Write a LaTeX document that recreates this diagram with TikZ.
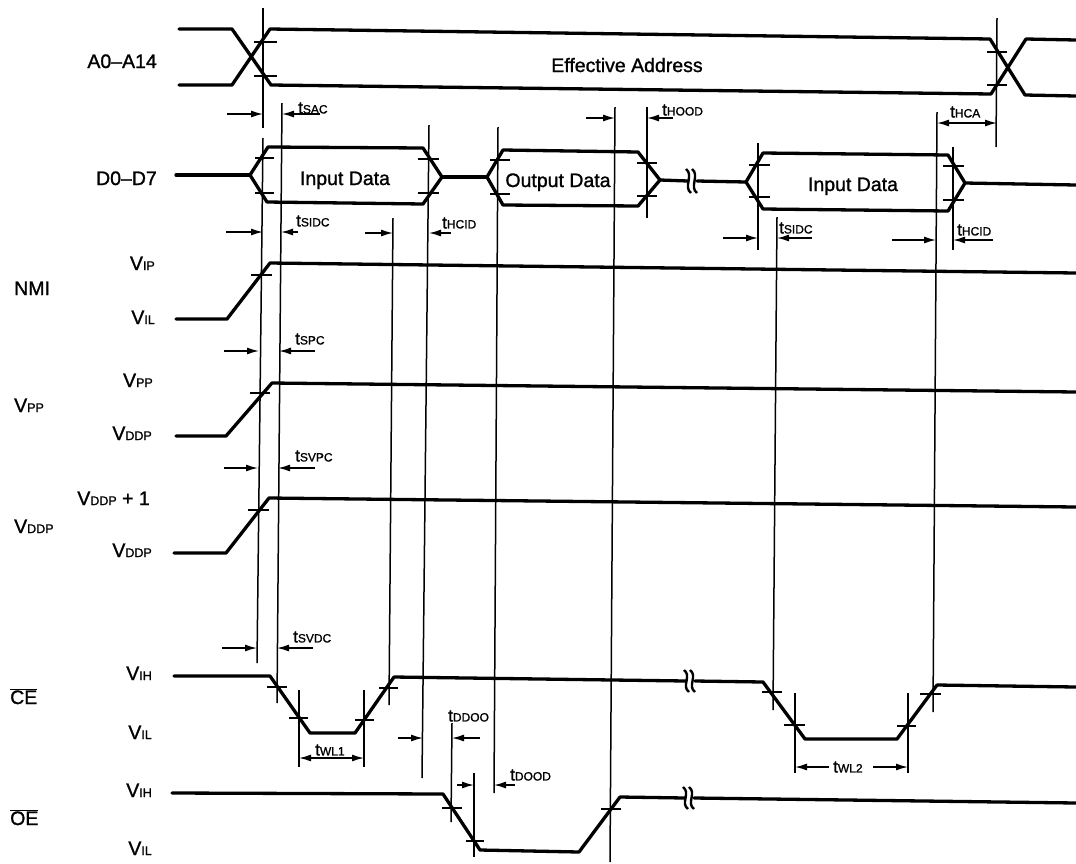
\documentclass[tikz,border=0pt]{standalone}
\usepackage{fontspec}
\setmainfont{Liberation Sans}[BoldFont=Liberation Sans,BoldFeatures={FakeBold=1.2}]
\usetikzlibrary{arrows.meta}
\newcommand\tlab[1]{{\fontsize{17}{17}\selectfont t}{\fontsize{12}{12}\selectfont #1}}
\newcommand\vlab[1]{V{\fontsize{12.5}{12.5}\selectfont #1}}
\begin{document}
\begin{tikzpicture}[x=1pt,y=-1pt,
  sig/.style={line width=3.3pt,line join=round,line cap=round},
  guide/.style={line width=1.5pt},
  tickmark/.style={line width=1.5pt},
  dimarrow/.style={line width=1.4pt,-{Latex[length=12pt,width=7pt]}},
  dimboth/.style={line width=1.4pt,{Latex[length=12pt,width=7pt]}-{Latex[length=12pt,width=7pt]}},
  lab/.style={font=\bfseries\fontsize{19.5}{20}\selectfont,inner sep=0pt},
  tl/.style={inner sep=0pt,anchor=west,font=\bfseries}]
\useasboundingbox (0,0) rectangle (1076,863);

% ---------- A0-A14 ----------
\draw[sig] (179,29) -- (232,29) -- (271,85) -- (991,94) -- (1026,39) -- (1076,40);
\draw[sig] (179,85) -- (232,85) -- (270,29) -- (990,39) -- (1025,95) -- (1076,96);
\draw[guide] (263,8) -- (263,128);
\draw[guide] (997,18) -- (996,147);
\draw[tickmark] (254,42) -- (277,42) (254,76) -- (277,76);
\draw[tickmark] (987,52) -- (1007,52) (987,85) -- (1007,85);

% ---------- D0-D7 ----------
\draw[sig] (176,175) -- (250,175);
\draw[sig] (250,175) -- (268,147) -- (423,148) -- (442,177) -- (423,204) -- (267,202) -- cycle;
\draw[sig] (442,177) -- (487,177);
\draw[sig] (487,177) -- (503,150) -- (638,152) -- (660,180) -- (638,206) -- (503,205) -- cycle;
\draw[sig] (660,180) -- (688,181);
\draw[line width=2.4pt] (686,169) .. controls (694,175) and (683,187) .. (691,193);
\draw[line width=2.4pt] (692,169) .. controls (700,175) and (689,187) .. (697,193);
\draw[sig] (697,181) -- (746,182);
\draw[sig] (746,182) -- (763,153) -- (948,155) -- (965,183) -- (948,211) -- (763,209) -- cycle;
\draw[sig] (965,183) -- (1076,185);
\draw[tickmark] (255,158) -- (274,158) (255,193) -- (274,193);
\draw[tickmark] (418,159) -- (439,159) (418,193) -- (439,193);
\draw[tickmark] (490,160) -- (510,160) (490,194) -- (510,194);
\draw[tickmark] (637,163) -- (657,163) (637,196) -- (657,196);
\draw[tickmark] (749,165) -- (770,165) (749,197) -- (770,197);
\draw[tickmark] (943,166) -- (964,166) (943,200) -- (964,200);

% ---------- guide lines ----------
\draw[guide] (263,138) -- (257,663);
\draw[guide] (282,103) -- (277,703);
\draw[guide] (393,218) -- (389,705);
\draw[guide] (429,125) -- (422,778);
\draw[guide] (498,127) -- (494,793);
\draw[guide] (615,107) -- (610,862);
\draw[guide] (647,107) -- (647,218);
\draw[guide] (758,143) -- (758,250);
\draw[guide] (777,217) -- (773,710);
\draw[guide] (937,112) -- (933,712);
\draw[guide] (953,147) -- (953,250);
\draw[guide] (299,690) -- (299,767);
\draw[guide] (364,690) -- (364,767);
\draw[guide] (795,693) -- (795,773);
\draw[guide] (908,693) -- (908,773);
\draw[guide] (452,723) -- (451,822);
\draw[guide] (474,773) -- (474,857);

% ---------- NMI, VPP, VDDP ----------
\draw[sig] (176,319) -- (227,319) -- (270,263) -- (1076,273);
\draw[tickmark] (251,275) -- (272,275);
\draw[sig] (176,436) -- (226,436) -- (272,383) -- (1076,392);
\draw[tickmark] (250,393) -- (270,393);
\draw[sig] (174,553) -- (226,553) -- (269,498) -- (1076,507);
\draw[tickmark] (248,510) -- (269,510);

% ---------- CE ----------
\draw[sig] (174,676) -- (270,676) -- (310,733) -- (355,733) -- (394,677) -- (686,681);
\draw[line width=2.4pt] (684,670) .. controls (692,676) and (681,686) .. (689,692);
\draw[line width=2.4pt] (690,670) .. controls (698,676) and (687,686) .. (695,692);
\draw[sig] (695,681) -- (763,682) -- (805,739) -- (897,739) -- (937,685) -- (1076,687);
\draw[tickmark] (267,687) -- (287,687) (289,718) -- (308,718) (355,720) -- (374,720) (379,688) -- (398,688);
\draw[tickmark] (762,692) -- (782,692) (784,725) -- (805,725) (897,726) -- (916,726) (920,694) -- (941,694);

% ---------- OE ----------
\draw[sig] (172,793) -- (443,794) -- (480,850) -- (579,852) -- (620,797) -- (685,798);
\draw[line width=2.4pt] (683,787) .. controls (691,793) and (680,803) .. (688,809);
\draw[line width=2.4pt] (689,787) .. controls (697,793) and (686,803) .. (694,809);
\draw[sig] (694,798) -- (1076,803);
\draw[tickmark] (442,808) -- (462,808) (466,841) -- (484,841) (601,809) -- (621,809);

% ---------- dimension arrows ----------
\draw[dimarrow] (227,114) -- (263,114);
\draw[dimarrow] (320,114) -- (282,114);
\draw[dimarrow] (226,232) -- (263,232);
\draw[dimarrow] (298,232) -- (281,232);
\draw[dimarrow] (365,233) -- (393,233);
\draw[dimarrow] (451,233) -- (429,233);
\draw[dimarrow] (586,118) -- (615,118);
\draw[dimarrow] (673,118) -- (647,118);
\draw[dimboth] (937,123) -- (997,123);
\draw[dimarrow] (723,238) -- (758,238);
\draw[dimarrow] (812,238) -- (777,238);
\draw[dimarrow] (892,240) -- (936,240);
\draw[dimarrow] (993,240) -- (953,240);
\draw[dimarrow] (224,351) -- (259,351);
\draw[dimarrow] (315,351) -- (279,351);
\draw[dimarrow] (224,468) -- (258,468);
\draw[dimarrow] (315,468) -- (278,468);
\draw[dimarrow] (222,648) -- (257,648);
\draw[dimarrow] (313,648) -- (277,648);
\draw[dimboth] (299,758) -- (364,758);
\draw[dimarrow] (829,767) -- (795,767);
\draw[dimarrow] (873,767) -- (908,767);
\draw[dimarrow] (398,738) -- (423,738);
\draw[dimarrow] (480,738) -- (452,738);
\draw[dimarrow] (457,785) -- (474,785);
\draw[dimarrow] (515,785) -- (494,785);

% ---------- labels ----------
\node[lab,anchor=base east] (la) at (157,68) {A0--A14};
\node[lab,anchor=base east] (ld) at (157,185) {D0--D7};
\node[lab,anchor=base] (lea) at (627,72) {Effective Address};
\node[lab,anchor=base] (lid1) at (345,185) {Input Data};
\node[lab,anchor=base] (lod) at (558,187) {Output Data};
\node[lab,anchor=base] (lid2) at (853,191) {Input Data};
\node[lab,anchor=base west] (lnmi) at (14,295) {NMI};
\node[lab,anchor=base east] (lvip) at (155,270) {\vlab{IP}};
\node[lab,anchor=base east] (lvil1) at (155,324) {\vlab{IL}};
\node[lab,anchor=base east] (lvpp1) at (153,387) {\vlab{PP}};
\node[lab,anchor=base west] (lvpp2) at (14,412) {\vlab{PP}};
\node[lab,anchor=base east] (lvddp1) at (152,440) {\vlab{DDP}};
\node[lab,anchor=base east] (lvddp2) at (150,505) {\vlab{DDP} + 1};
\node[lab,anchor=base west] (lvddp3) at (14,533) {\vlab{DDP}};
\node[lab,anchor=base east] (lvddp4) at (152,557) {\vlab{DDP}};
\node[lab,anchor=base west] (lce) at (10,704) {$\overline{\mbox{CE}}$};
\node[lab,anchor=base east] (lvih1) at (152,680) {\vlab{IH}};
\node[lab,anchor=base east] (lvil2) at (152,739) {\vlab{IL}};
\node[lab,anchor=base west] (loe) at (10,825) {$\overline{\mbox{OE}}$};
\node[lab,anchor=base east] (lvih2) at (152,797) {\vlab{IH}};
\node[lab,anchor=base east] (lvil3) at (152,855) {\vlab{IL}};

\node[tl] (t1) at (298,108) {\tlab{SAC}};
\node[tl] (t2) at (296,221) {\tlab{SIDC}};
\node[tl] (t3) at (442,223) {\tlab{HCID}};
\node[tl] (t4) at (662,110) {\tlab{HOOD}};
\node[tl] (t5) at (950,112) {\tlab{HCA}};
\node[tl] (t6) at (779,228) {\tlab{SIDC}};
\node[tl] (t7) at (957,230) {\tlab{HCID}};
\node[tl] (t8) at (295,339) {\tlab{SPC}};
\node[tl] (t9) at (295,456) {\tlab{SVPC}};
\node[tl] (t10) at (293,637) {\tlab{SVDC}};
\node[tl] (t11) at (315,750) {\tlab{WL1}};
\node[tl] (t12) at (448,716) {\tlab{DDOO}};
\node[tl] (t13) at (510,775) {\tlab{DOOD}};
\node[tl] (t14) at (833,767) {\tlab{WL2}};
\end{tikzpicture}
\end{document}
